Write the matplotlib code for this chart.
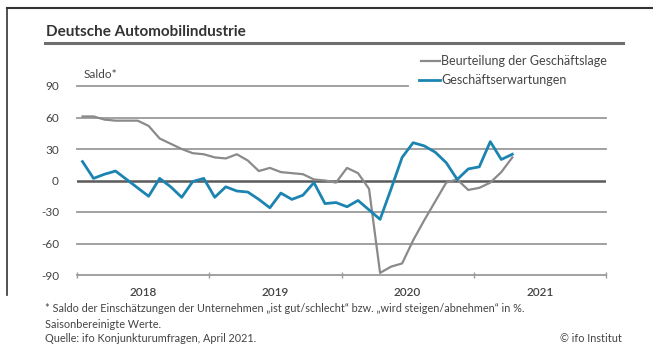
import matplotlib
matplotlib.use("Agg")
import matplotlib.pyplot as plt
from matplotlib.lines import Line2D
import numpy as np

plt.rcParams['font.family'] = ['Lato', 'DejaVu Sans']

# Monthly survey balances, Jan 2018 - Apr 2021
months = np.arange(40)  # 0 = Jan 2018
lage = [61, 61, 58, 57, 57, 57, 52, 40, 35, 30, 26, 25,
        22, 21, 25, 19, 9, 12, 8, 7, 6, 1, 0, -2,
        12, 7, -8, -88, -82, -79, -57, -38, -20, -2, 1, -9,
        -7, -2, 8, 22]
erwartungen = [18, 2, 6, 9, 1, -7, -15, 2, -6, -16, -1, 2,
               -16, -6, -10, -11, -18, -26, -12, -18, -14, -2, -22, -21,
               -25, -19, -28, -37, -8, 22, 36, 33, 27, 17, 1, 11,
               13, 37, 20, 25]
years = ["2018", "2019", "2020", "2021"]
yticks = [90, 60, 30, 0, -30, -60, -90]
series_names = ["Beurteilung der Geschäftslage", "Geschäftserwartungen"]

GRAY = "#8a8a8a"
BLUE = "#1c84b0"
GRID = "#9a9a9a"
TEXT = "#444444"

W, H = 653, 356
fig = plt.figure(figsize=(W / 100, H / 100), dpi=100)


def fx(px):
    return px / W


def fy(py):
    return 1 - py / H


ax = fig.add_axes([fx(77), fy(275), 529 / W, 189 / H])
ax.set_xlim(-0.5, 47.5)
ax.set_ylim(-90, 90)
for s in ax.spines.values():
    s.set_visible(False)

# horizontal grid; the top line stops short of the legend
for v in yticks:
    if v == 0:
        ax.axhline(v, color="#5a5a5a", lw=1.8, zorder=1)
    elif v == 90:
        ax.axhline(v, xmin=0, xmax=(408 - 77) / 529, color=GRID, lw=1.3, zorder=1, clip_on=False)
    else:
        ax.axhline(v, color=GRID, lw=1.3, zorder=1, clip_on=False)

ax.plot(months, lage, color=GRAY, lw=1.6, zorder=3, clip_on=False)
ax.plot(months, erwartungen, color=BLUE, lw=2.0, zorder=4, clip_on=False)

ax.set_yticks(yticks)
ax.set_yticklabels([str(v) if v >= 0 else "-" + str(-v) for v in yticks],
                   fontsize=8.5, color=TEXT)
ax.tick_params(axis="y", length=0, pad=13)

# year boundaries as ticks, year names centred in between
ax.set_xticks([-0.5, 11.5, 23.5, 35.5, 47.5])
ax.set_xticklabels([])
ax.tick_params(axis="x", which="major", length=4, width=1.0, color=GRID, direction="inout")
ax.set_xticks([5.5, 17.5, 29.5, 41.5], minor=True)
ax.set_xticklabels(years, minor=True, fontsize=8.5, color=TEXT, fontweight="semibold")
ax.tick_params(axis="x", which="minor", length=0, pad=9)

# legend drawn as short line keys with labels
for (y, col, lw, x0), name in zip([(61, GRAY, 1.6, 421), (80, BLUE, 2.0, 419)], series_names):
    fig.add_artist(Line2D([fx(x0), fx(440)], [fy(y), fy(y)], color=col, lw=lw))
    fig.text(fx(441), fy(y), name, fontsize=9, color=TEXT, va="center", ha="left")

# frame, title and rule
fig.add_artist(Line2D([fx(7), 1], [fy(8), fy(8)], color="#333333", lw=1.5))
fig.add_artist(Line2D([fx(7), fx(7)], [fy(8), fy(295)], color="#333333", lw=1.2))
fig.text(fx(46), fy(32), "Deutsche Automobilindustrie", fontsize=11, fontweight="bold",
         color="#333333", va="center", ha="left")
fig.add_artist(Line2D([fx(45), fx(623)], [fy(43), fy(43)], color="#6e6e6e", lw=2.2))
fig.text(fx(84), fy(74), "Saldo*", fontsize=8.5, color=TEXT, va="center", ha="left")

# notes
note_fs = 7.8
fig.text(fx(45), fy(309),
         "* Saldo der Einschätzungen der Unternehmen \u201eist gut/schlecht\u201c bzw. "
         "\u201ewird steigen/abnehmen\u201c in %.",
         fontsize=note_fs, color=TEXT, va="center", ha="left")
fig.text(fx(45), fy(324), "Saisonbereinigte Werte.", fontsize=note_fs, color=TEXT,
         va="center", ha="left")
fig.text(fx(45), fy(339), "Quelle: ifo Konjunkturumfragen, April 2021.", fontsize=note_fs,
         color=TEXT, va="center", ha="left")
fig.text(fx(622), fy(339), "© ifo Institut", fontsize=note_fs, color=TEXT,
         va="center", ha="right")

fig.savefig("out.png", dpi=100)
